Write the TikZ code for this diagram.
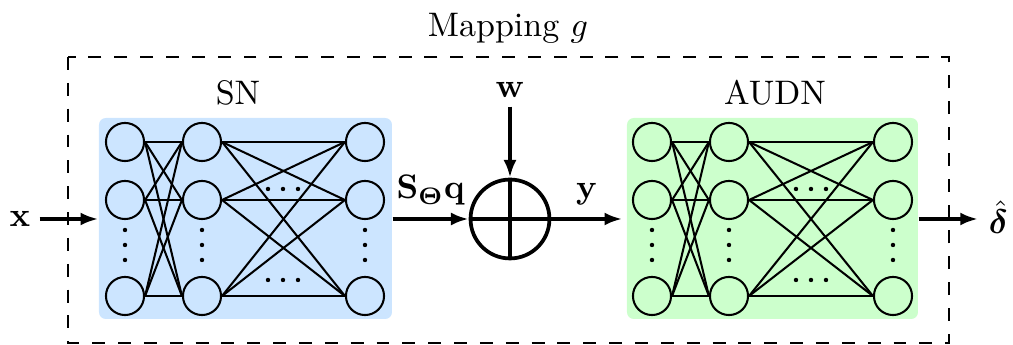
\documentclass[tikz,border=0pt]{standalone}
\usepackage{amsmath}
\usepackage{bm}
\usetikzlibrary{arrows.meta,fit}
\definecolor{snblue}{RGB}{204,229,255}
\definecolor{audngreen}{RGB}{204,255,204}
\begin{document}
\begin{tikzpicture}[x=0.294pt,y=-0.294pt,
  neuron/.style={circle,draw,line width=0.6pt,minimum size=11.2pt,inner sep=0pt},
  link/.style={line width=0.6pt},
  flow/.style={line width=1.2pt,-{Latex[length=5.2pt,width=3.8pt]}},
  frame/.style={line width=0.6pt,dash pattern=on 3.8pt off 3.8pt},
  netbox/.style={inner sep=0pt,rounded corners=2pt,draw=none},
  dotmark/.style={circle,fill,inner sep=0pt,minimum size=1.3pt},
  lbl/.style={inner sep=2.5pt}]
\useasboundingbox (0,0) rectangle (1013,345);

% frame
\draw[frame] (68,57) rectangle (949,343);
\node (maplbl) at (508,28) {Mapping $g$};

% boxes
\node[netbox,fill=snblue,fit={(99,118) (392,319)}] (snbox) {};
\node[netbox,fill=audngreen,fit={(627,118) (918,319)}] (audnbox) {};
\node (snlbl) at (238,93) {SN};
\node (audnlbl) at (775,93) {AUDN};

% networks
\foreach \net/\xa/\xb/\xc in {s/125/202/365, a/652/729/893}{
  \foreach \r/\yy in {1/142,2/200,3/296}{
    \node[neuron] (\net a\r) at (\xa,\yy) {};
    \node[neuron] (\net b\r) at (\xb,\yy) {};
    \node[neuron] (\net c\r) at (\xc,\yy) {};
  }
  \foreach \i in {1,2,3}{
    \foreach \j in {1,2,3}{
      \draw[link] (\net a\i.east) -- (\net b\j.west);
      \draw[link] (\net b\i.east) -- (\net c\j.west);
    }
  }
  \foreach \xx [count=\k] in {\xa,\xb,\xc}{
    \foreach \yy [count=\m] in {230,245,260}{
      \node[dotmark] (\net v\k\m) at (\xx,\yy) {};
    }
  }
}
\foreach \xx [count=\k] in {268,283,298}{
  \node[dotmark] (sht\k) at (\xx,189) {};
  \node[dotmark] (shb\k) at (\xx,280) {};
}
\foreach \xx [count=\k] in {796,811,826}{
  \node[dotmark] (aht\k) at (\xx,189) {};
  \node[dotmark] (ahb\k) at (\xx,280) {};
}

% summation
\node[circle,draw,line width=1.1pt,minimum size=23.2pt,inner sep=0pt] (sum) at (510,219) {};
\draw[line width=1.1pt] (sum.north) -- (sum.south);
\draw[line width=1.1pt] (sum.west) -- (sum.east);

% signals
\node[lbl] (xin) at (20,219) {$\mathbf{x}$};
\node[lbl] (win) at (510,90) {$\mathbf{w}$};
\node[anchor=west,inner sep=3pt] (dout) at (978,217) {$\hat{\bm{\delta}}$};

\draw[flow] (xin.east |- sum.west) -- (snbox.west |- sum.west);
\draw[flow] (snbox.east |- sum.west) -- node[above] {$\mathbf{S}_{\bm{\Theta}}\mathbf{q}$} (sum.west);
\draw[flow] (win.south) -- (sum.north);
\draw[flow] (sum.east) -- node[above] {$\mathbf{y}$} ([xshift=-1.2pt]audnbox.west |- sum.east);
\draw[flow] (audnbox.east |- sum.east) -- (dout.west |- sum.east);
\end{tikzpicture}
\end{document}
